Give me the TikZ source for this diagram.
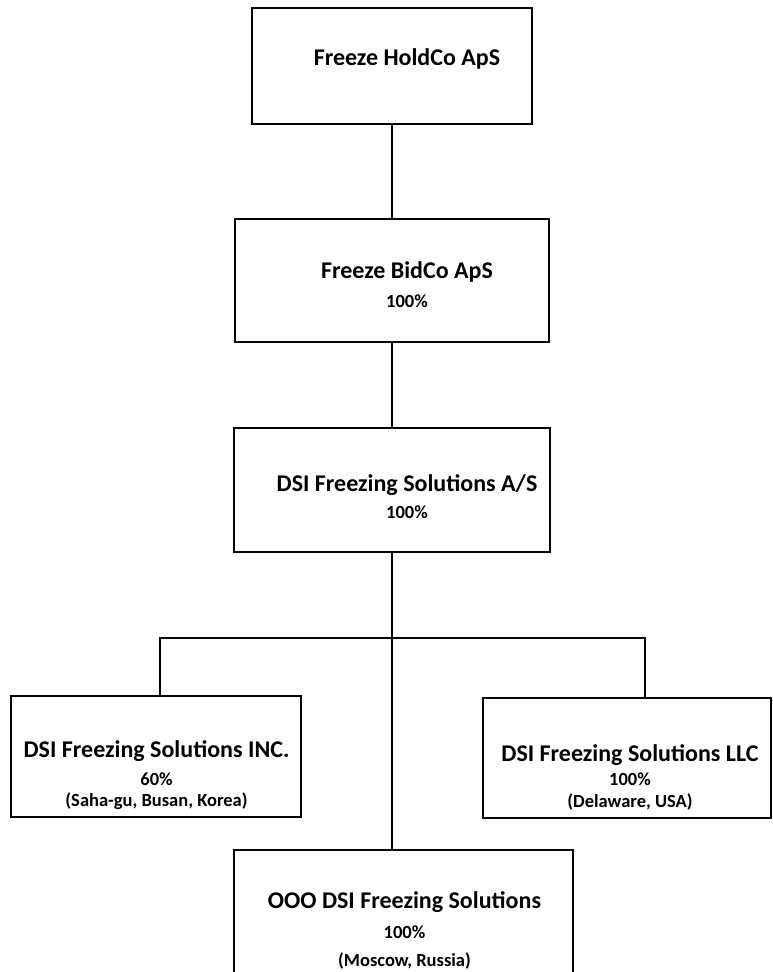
\documentclass[tikz,border=0pt]{standalone}
\usepackage{fontspec}
\setmainfont{Carlito}
\usetikzlibrary{calc}
\tikzset{
  unitbox/.style={draw,line width=1.7pt,rectangle,inner sep=0pt},
  link/.style={line width=1.7pt},
  nametext/.style={anchor=base,inner sep=0pt,font=\bfseries\fontsize{24}{28}\selectfont},
  sharetext/.style={anchor=base,inner sep=0pt,font=\bfseries\fontsize{18.5}{22}\selectfont}
}
\begin{document}
\begin{tikzpicture}[x=1pt,y=-1pt]
\useasboundingbox(0,0)rectangle(773,972);
%company boxes
\node[unitbox,minimum width=280,minimum height=116](holdco)at(392,66){};
\node[unitbox,minimum width=314,minimum height=123](bidco)at(392,280.5){};
\node[unitbox,minimum width=316,minimum height=124](dsi)at(392,490){};
\node[unitbox,minimum width=290,minimum height=121](inc)at(156,756.5){};
\node[unitbox,minimum width=288,minimum height=120](llc)at(627,758){};
\node[unitbox,minimum width=339,minimum height=160](ooo)at(403.5,930){};
%ownership lines
\coordinate(busL)at(160,638);
\coordinate(busR)at(645,638);
\draw[link](holdco.south)--(bidco.north);
\draw[link](bidco.south)--(dsi.south|-dsi.north);
\draw[link](dsi.south)--(dsi.south|-ooo.north);
\draw[link](inc.north-|busL)--(busL)--(busR)--(llc.north-|busR);
%labels
\node[nametext](holdcoT)at(407,65){Freeze HoldCo ApS};
\node[nametext](bidcoT)at(407,278){Freeze BidCo ApS};
\node[sharetext](bidcoP)at(407,307){100\%};
\node[nametext](dsiT)at(407,491){DSI Freezing Solutions A/S};
\node[sharetext](dsiP)at(407,518){100\%};
\node[nametext](incT)at(156.5,757){DSI Freezing Solutions INC.};
\node[sharetext](incP)at(156.5,785){60\%};
\node[sharetext](incL)at(156.5,806){(Saha-gu, Busan, Korea)};
\node[nametext](llcT)at(630,761){DSI Freezing Solutions LLC};
\node[sharetext](llcP)at(630,785){100\%};
\node[sharetext](llcL)at(630,807){(Delaware, USA)};
\node[nametext](oooT)at(404.5,908){OOO DSI Freezing Solutions};
\node[sharetext](oooP)at(404.5,938){100\%};
\node[sharetext](oooL)at(404.5,966){(Moscow, Russia)};
\end{tikzpicture}
\end{document}
